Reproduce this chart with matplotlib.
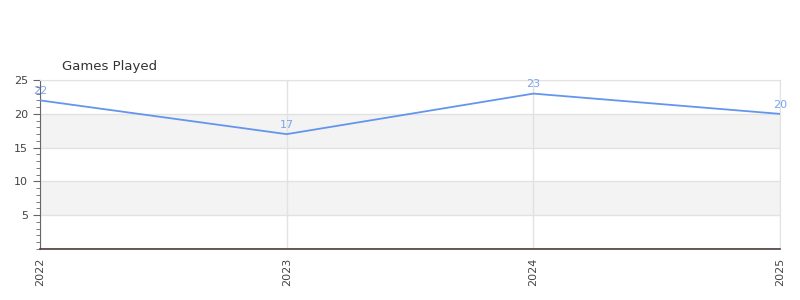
import matplotlib.pyplot as plt
from matplotlib.ticker import MultipleLocator

# Data
years = ['2022', '2023', '2024', '2025']
games_played = [22, 17, 23, 20]

line_color = '#6495ED'

fig = plt.figure(figsize=(8, 3), dpi=100)
ax = fig.add_axes([0.05, 0.17, 0.925, 0.563])

x = list(range(len(years)))

# Alternating background bands
for lo in (5, 15):
    ax.axhspan(lo, lo + 5, color='#f3f3f3', zorder=0, lw=0)

ax.plot(x, games_played, color=line_color, linewidth=1.3, zorder=3)
for xi, v in zip(x, games_played):
    ax.annotate(str(v), (xi, v), xytext=(0, 3), textcoords='offset points',
                ha='center', va='bottom', fontsize=8, color=line_color, alpha=0.85)

ax.axhline(0, color='#cc0000', linewidth=1, zorder=4)

ax.set_xlim(0, len(years) - 1)
ax.set_ylim(0, 25)
ax.set_xticks(x)
ax.set_xticklabels(years, rotation=90, fontsize=8, color='#444444')
ax.set_yticks([5, 10, 15, 20, 25])
ax.yaxis.set_minor_locator(MultipleLocator(1))
ax.tick_params(axis='y', labelsize=8, colors='#444444', length=5, color='#666666')
ax.tick_params(axis='y', which='minor', length=3, color='#666666')
ax.tick_params(axis='x', length=0, pad=6)

ax.grid(True, color='#e2e2e2', linewidth=1, zorder=1)
ax.set_axisbelow(True)

for side in ('top', 'right'):
    ax.spines[side].set_color('#e2e2e2')
ax.spines['left'].set_color('#666666')
ax.spines['bottom'].set_color('#444444')
ax.spines['bottom'].set_linewidth(1.2)

fig.text(0.0775, 0.777, 'Games Played', fontsize=9.5, color='#333333', ha='left', va='center')

fig.savefig('out.png', dpi=100)
